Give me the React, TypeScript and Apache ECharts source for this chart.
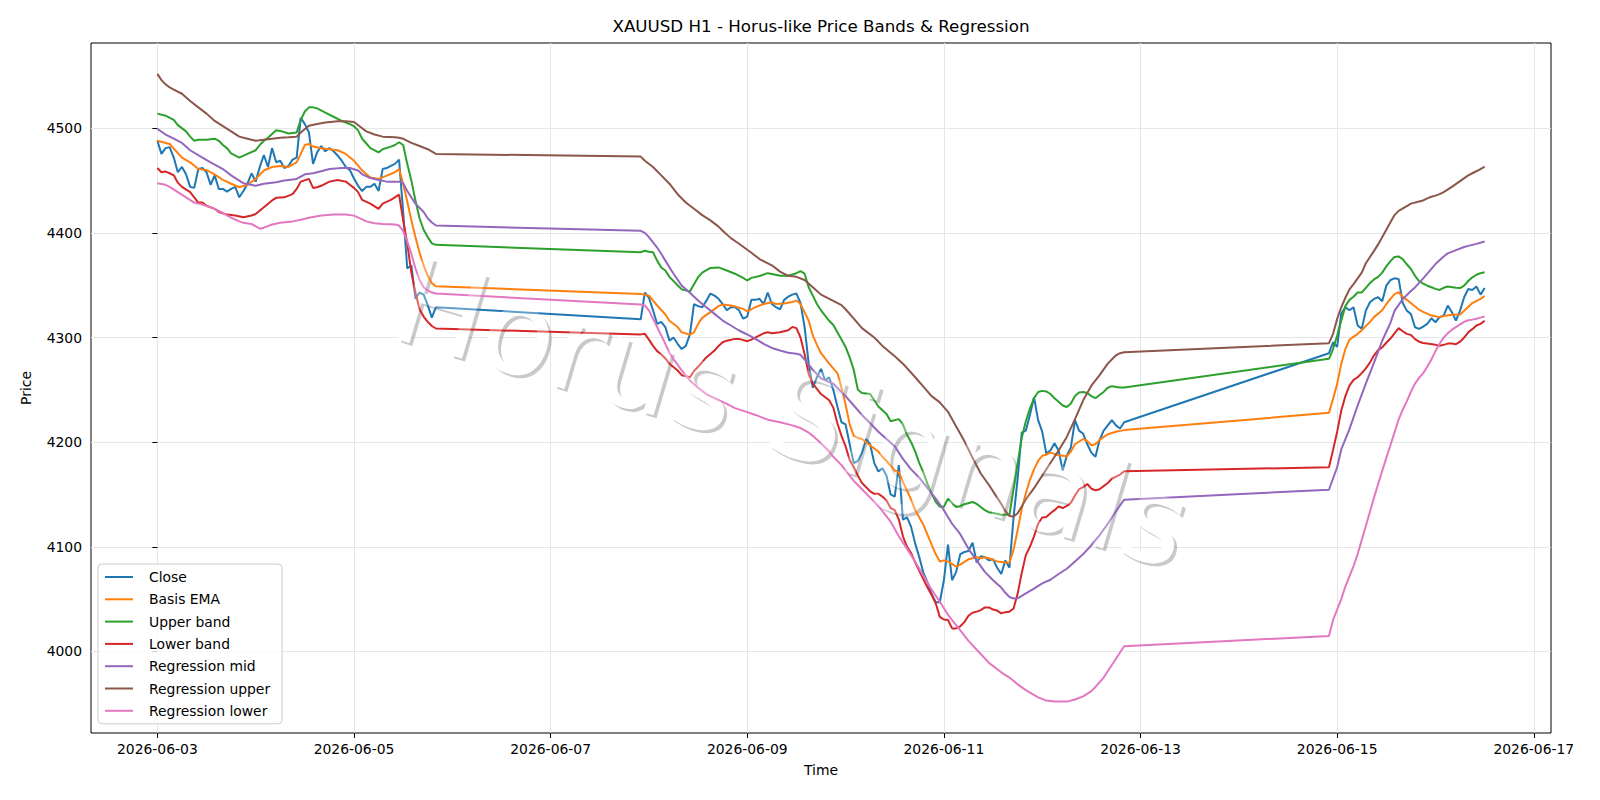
import React, { useEffect, useRef } from "react";
import * as echarts from "echarts";

// Hours are counted from 2026-06-03 00:00 (H1 bars, weekend gaps left open).
const xTickHours = [0, 48, 96, 144, 192, 240, 288, 336];
const xTickLabels = [
  "2026-06-03",
  "2026-06-05",
  "2026-06-07",
  "2026-06-09",
  "2026-06-11",
  "2026-06-13",
  "2026-06-15",
  "2026-06-17",
];
const yTicks = [4000, 4100, 4200, 4300, 4400, 4500];

const titleText = "XAUUSD H1 - Horus-like Price Bands & Regression";
const watermarkText = "Horus Signals";

const closePrices: [number, number][] = [
  [0, 4488], [1, 4475.5], [2, 4481], [3, 4482], [4, 4472], [5, 4458], [6, 4463], [7, 4456], [8, 4444], [9, 4443],
  [10, 4461], [11, 4462], [12, 4458], [13, 4446], [14, 4455], [15, 4442], [16, 4442], [17, 4439.5], [18, 4442], [19, 4444],
  [20, 4434], [21, 4440], [22, 4447], [23, 4457], [24, 4449], [25, 4463], [26, 4474.5], [27, 4463], [28, 4481], [29, 4467.5],
  [30, 4469], [31, 4462], [32, 4464], [33, 4470], [34, 4472], [35, 4510], [36, 4504], [37, 4496], [38, 4466], [39, 4477],
  [40, 4483], [41, 4478], [42, 4481], [43, 4478], [44, 4474], [45, 4469], [46, 4463], [47, 4460], [48, 4452], [49, 4445],
  [50, 4440], [51, 4444], [52, 4444], [53, 4447], [54, 4440], [55, 4461], [56, 4462], [57, 4464], [58, 4466], [59, 4470],
  [60, 4420], [61, 4366], [62, 4369], [63, 4337], [64, 4343], [65, 4341], [66, 4331], [67, 4319], [68, 4329],
  [118, 4317.5], [119, 4343], [120, 4338], [121, 4326], [122, 4313], [123, 4315], [124, 4310], [125, 4297], [126, 4300], [127, 4294],
  [128, 4289], [129, 4292], [130, 4303], [131, 4332], [132, 4330], [133, 4329], [134, 4335], [135, 4342], [136, 4340], [137, 4337],
  [138, 4332], [139, 4326], [140, 4329], [141, 4329], [142, 4326], [143, 4318], [144, 4320], [145, 4336], [146, 4336], [147, 4337],
  [148, 4332], [149, 4343], [150, 4332], [151, 4329], [152, 4327], [153, 4336], [154, 4339], [155, 4341], [156, 4342], [157, 4333],
  [158, 4310], [159, 4275], [160, 4252], [161, 4262], [162, 4270], [163, 4259], [164, 4262], [165, 4250], [166, 4234], [167, 4219],
  [168, 4217], [169, 4198], [170, 4180], [171, 4182], [172, 4190], [173, 4203], [174, 4198], [175, 4180], [176, 4172], [177, 4175],
  [178, 4168], [179, 4150], [180, 4148], [181, 4178], [182, 4126], [183, 4128], [184, 4119], [185, 4103], [186, 4090], [187, 4075],
  [188, 4066], [189, 4055], [190, 4047], [191, 4047], [192, 4068], [193, 4102], [194, 4068], [195, 4076], [196, 4093], [197, 4095],
  [198, 4096], [199, 4104], [200, 4085], [201, 4091], [202, 4090], [203, 4087], [204, 4088], [205, 4080], [206, 4074], [207, 4087],
  [208, 4080], [209, 4128], [210, 4165], [211, 4209], [212, 4211], [213, 4226], [214, 4243], [215, 4221], [216, 4210], [217, 4189],
  [218, 4192], [219, 4199], [220, 4192], [221, 4173], [222, 4187], [223, 4195], [224, 4221], [225, 4211], [226, 4208], [227, 4198],
  [228, 4190], [229, 4186], [230, 4202], [231, 4211], [232, 4216], [233, 4221], [234, 4216], [235, 4213], [236, 4219],
  [286, 4285], [287, 4295.5], [288, 4291], [289, 4323], [290, 4329], [291, 4326], [292, 4329], [293, 4311.5], [294, 4308.3], [295, 4325.7],
  [296, 4333.7], [297, 4336.9], [298, 4338.5], [299, 4334.6], [300, 4349.6], [301, 4355], [302, 4356.6], [303, 4356], [304, 4333], [305, 4325.7],
  [306, 4322.5], [307, 4309.8], [308, 4308.3], [309, 4310.5], [310, 4313], [311, 4318.4], [312, 4314.6], [313, 4319.4], [314, 4321], [315, 4330.6],
  [316, 4324.2], [317, 4316.2], [318, 4325.7], [319, 4338.5], [320, 4346.4], [321, 4345.5], [322, 4348.7], [323, 4341], [324, 4347.4],
];

const basisEma: [number, number][] = [
  [0, 4488], [3, 4485], [6, 4472], [8, 4467.5], [10, 4461], [12, 4460], [14, 4456], [16, 4450.6], [18, 4447], [20, 4443.6],
  [22, 4446], [24, 4451.6], [26, 4459.6], [28, 4463], [30, 4464], [32, 4463], [34, 4467.5], [35, 4475.5], [36, 4484], [37, 4485],
  [38, 4482.5], [40, 4481], [42, 4480], [44, 4479], [46, 4475.5], [48, 4469], [50, 4459.6], [52, 4453], [54, 4451.6], [56, 4454.8],
  [58, 4458], [59, 4461], [60, 4447], [61, 4430], [62, 4412], [63, 4396], [64, 4381], [65, 4369], [66, 4359], [67, 4352], [68, 4349],
  [118, 4341.7], [120, 4340], [122, 4330.6], [124, 4322], [125, 4316], [127, 4310], [128, 4305], [130, 4302.8], [131, 4305], [132, 4313],
  [133, 4318.8], [135, 4324.3], [137, 4330], [138, 4331.6], [140, 4330.6], [141, 4329.6], [143, 4327.4], [144, 4325], [146, 4329], [148, 4332],
  [150, 4333.8], [151, 4332], [153, 4332.5], [155, 4334], [156, 4335.3], [157, 4332], [158, 4324], [159, 4316], [160, 4302], [161, 4293],
  [162, 4285], [164, 4275], [166, 4266], [167, 4252], [168, 4236], [169, 4217], [170, 4206], [171, 4204], [172, 4203], [173, 4200],
  [175, 4194], [176, 4191], [177, 4186], [178, 4182], [180, 4173], [181, 4171], [182, 4162], [184, 4145], [185, 4135], [187, 4121],
  [189, 4102], [190, 4093], [191, 4086], [192, 4087], [193, 4086], [195, 4081], [196, 4083], [197, 4085.6], [198, 4088], [200, 4090],
  [201, 4089], [202, 4090], [203, 4089], [205, 4086], [207, 4085], [208, 4085], [209, 4097], [210, 4116], [211, 4136], [212, 4151],
  [213, 4164], [214, 4174], [215, 4182], [216, 4187], [217, 4188], [218, 4190], [220, 4187.5], [222, 4186.5], [223, 4191], [224, 4198],
  [226, 4203], [227, 4201], [228, 4197], [229, 4198], [230, 4202], [231, 4205], [232, 4207.5], [234, 4210], [236, 4211.5],
  [286, 4228], [287, 4241.4], [288, 4255.7], [289, 4274.8], [290, 4289], [291, 4298], [293, 4303.5], [294, 4307], [295, 4311], [296, 4315],
  [297, 4319.5], [299, 4326], [300, 4332], [301, 4337], [302, 4341.5], [303, 4343.3], [304, 4339], [305, 4336], [306, 4333], [308, 4326.5],
  [309, 4324.5], [311, 4321], [313, 4319.5], [314, 4320.5], [316, 4321.7], [318, 4322], [319, 4325.5], [321, 4332.9], [322, 4335], [323, 4337],
  [324, 4339.5],
];

const upperBand: [number, number][] = [
  [0, 4514], [2, 4512], [4, 4508], [5, 4503], [7, 4497], [8, 4492], [9, 4488], [10, 4489], [12, 4489], [14, 4490],
  [15, 4488], [16, 4484], [17, 4481], [18, 4476], [20, 4472], [22, 4475.5], [24, 4479], [25, 4484], [26, 4488], [27, 4491],
  [29, 4498], [30, 4497.5], [32, 4495], [34, 4496], [35, 4508], [36, 4516], [37, 4520], [38, 4520], [39, 4519], [41, 4515],
  [43, 4511], [45, 4507], [47, 4504], [48, 4502], [49, 4498], [50, 4490], [52, 4481], [54, 4477], [55, 4480], [57, 4482.5],
  [58, 4484], [59, 4486.6], [60, 4484], [61, 4466], [62, 4450], [63, 4431], [64, 4414], [65, 4403], [66, 4396], [67, 4390], [68, 4388.6],
  [118, 4381.5], [119, 4383], [120, 4382], [121, 4381.5], [122, 4373.5], [123, 4367], [124, 4364], [125, 4358], [127, 4350], [128, 4346],
  [130, 4344], [131, 4351], [132, 4357.6], [133, 4362], [135, 4366.5], [137, 4367], [139, 4364], [141, 4361], [143, 4357], [144, 4354.5],
  [145, 4357], [147, 4358.8], [149, 4361.5], [150, 4360.8], [152, 4359], [154, 4359], [156, 4361.5], [157, 4363.4], [158, 4361], [159, 4348],
  [160, 4340], [161, 4332], [162, 4326], [164, 4316], [165, 4312], [166, 4305], [167, 4298], [168, 4291], [169, 4281], [170, 4269],
  [171, 4250], [172, 4247], [174, 4246], [175, 4240], [176, 4234], [178, 4227], [179, 4220], [181, 4222], [182, 4217], [183, 4207],
  [184, 4200], [185, 4191], [186, 4180], [187, 4171], [188, 4160], [189, 4151], [190, 4143], [191, 4138.3], [192, 4138.3], [193, 4146],
  [194, 4142], [195, 4138], [196, 4139], [197, 4140.6], [199, 4142.8], [200, 4141], [201, 4138], [202, 4135], [203, 4133], [205, 4131.5],
  [206, 4130.5], [208, 4130.5], [209, 4155], [210, 4180], [211, 4204], [212, 4220], [213, 4232], [214, 4242], [215, 4248], [216, 4249],
  [217, 4248.5], [218, 4246], [219, 4242], [220, 4238.5], [221, 4235], [222, 4233.6], [223, 4237], [224, 4244], [225, 4247.5], [226, 4248],
  [227, 4247], [228, 4244], [229, 4242], [230, 4245], [231, 4248], [232, 4252], [233, 4253.5], [235, 4252.2], [236, 4252.2],
  [286, 4279.6], [287, 4289], [288, 4302], [289, 4316], [290, 4330], [291, 4336], [292, 4339], [293, 4343], [294, 4343], [295, 4347.5],
  [296, 4352], [297, 4355.5], [298, 4358], [299, 4362], [300, 4368], [301, 4373], [302, 4377], [303, 4377.5], [304, 4375], [305, 4370],
  [306, 4365.5], [307, 4359], [308, 4354], [309, 4351.5], [310, 4349.5], [311, 4348], [312, 4346.5], [313, 4345.5], [314, 4347.5], [315, 4348.7],
  [317, 4347.5], [318, 4347.3], [319, 4349.6], [320, 4354], [321, 4357.5], [322, 4360], [323, 4361.5], [324, 4362.4],
];

const lowerBand: [number, number][] = [
  [0, 4462], [1, 4458], [2, 4458.6], [3, 4457], [4, 4455], [5, 4448], [6, 4444], [8, 4439], [9, 4434], [10, 4429],
  [11, 4429], [12, 4426], [14, 4423], [15, 4420], [17, 4417.5], [19, 4416.6], [21, 4415], [23, 4416.6], [24, 4418], [26, 4424.5],
  [28, 4431], [29, 4433.5], [31, 4434], [33, 4437], [34, 4442], [35, 4449], [37, 4451.6], [38, 4443], [39, 4443.6], [40, 4445],
  [42, 4449], [44, 4450.6], [46, 4449], [47, 4446], [48, 4443], [49, 4439], [50, 4431.5], [52, 4428], [54, 4423], [55, 4428],
  [57, 4431.5], [59, 4436.6], [60, 4412], [61, 4390], [62, 4362], [63, 4343], [64, 4327], [65, 4320], [66, 4315], [67, 4311], [68, 4308.6],
  [118, 4303], [119, 4303.5], [120, 4298], [121, 4292], [122, 4287], [123, 4284], [124, 4280], [125, 4275], [127, 4268.5], [128, 4264],
  [130, 4262], [131, 4268], [132, 4272], [134, 4281], [136, 4287.6], [137, 4292], [138, 4295.5], [139, 4297], [141, 4298.7], [142, 4298.7],
  [144, 4296.5], [145, 4298], [147, 4302], [148, 4304], [149, 4305], [150, 4304], [152, 4305], [154, 4307], [155, 4310], [156, 4309],
  [157, 4300], [158, 4284], [159, 4265], [160, 4256], [161, 4251], [162, 4246], [164, 4240], [165, 4233], [166, 4218], [167, 4206],
  [168, 4196], [169, 4183], [170, 4176], [171, 4168], [172, 4161], [173, 4157], [174, 4153], [175, 4150.6], [176, 4150.6], [177, 4148],
  [178, 4144], [179, 4137], [180, 4135], [181, 4126], [182, 4110], [183, 4100], [184, 4094], [185, 4085], [186, 4077], [187, 4069],
  [188, 4061], [189, 4054], [190, 4046], [191, 4033], [192, 4030.5], [193, 4030], [194, 4022], [195, 4022], [196, 4024], [197, 4028],
  [198, 4034], [199, 4037], [200, 4038], [201, 4039.5], [202, 4042], [203, 4042], [204, 4040], [205, 4039], [206, 4036.3], [207, 4037.5],
  [208, 4038], [209, 4041], [210, 4055], [211, 4075], [212, 4092], [213, 4100], [214, 4110], [215, 4122], [216, 4128], [217, 4128.5],
  [218, 4132], [219, 4135], [220, 4138.5], [221, 4137], [222, 4139], [223, 4142], [224, 4149], [225, 4155], [226, 4157], [227, 4160],
  [228, 4155.5], [229, 4154], [230, 4155], [231, 4158], [232, 4161], [233, 4165], [234, 4167], [235, 4169], [236, 4172.2],
  [286, 4176], [287, 4192.6], [288, 4210], [289, 4230], [290, 4244], [291, 4254], [292, 4259.5], [293, 4262], [294, 4266], [295, 4270.5],
  [296, 4276], [297, 4283], [298, 4288], [299, 4290.5], [300, 4295], [301, 4299], [302, 4304], [303, 4309], [304, 4306], [305, 4303.5],
  [306, 4302.5], [307, 4298.5], [308, 4296], [309, 4294.8], [310, 4294.2], [312, 4293.2], [313, 4292], [314, 4293], [315, 4294.2], [316, 4294.2],
  [317, 4293.6], [318, 4296], [319, 4300], [320, 4305], [321, 4308], [322, 4311.5], [323, 4313], [324, 4316],
];

const regressionMid: [number, number][] = [
  [0, 4499.4], [2, 4494], [4, 4490], [6, 4486], [8, 4479], [11, 4472], [13, 4467.5], [16, 4461], [18, 4455], [20, 4450],
  [21, 4447.5], [24, 4445], [26, 4447], [29, 4448.4], [31, 4450], [34, 4451.6], [36, 4456], [38, 4457], [40, 4459], [42, 4461],
  [45, 4462], [47, 4462], [49, 4459.6], [50, 4456], [52, 4452.5], [54, 4450.6], [56, 4449], [59, 4449], [60, 4447.5], [61, 4440],
  [63, 4428], [65, 4420], [66, 4414], [67, 4410], [68, 4407],
  [118, 4402], [119, 4400], [120, 4396], [121, 4391], [122, 4386], [123, 4380], [124, 4373.5], [126, 4361], [128, 4349.6], [130, 4342.7],
  [132, 4335.3], [134, 4329], [136, 4322.6], [138, 4316.2], [140, 4311.5], [142, 4306.7], [144, 4302.9], [146, 4298.8], [148, 4294], [150, 4290],
  [152, 4287.6], [154, 4285.5], [156, 4284.5], [157, 4283.5], [158, 4279], [160, 4269], [162, 4261], [165, 4255.8], [168, 4244], [170, 4235],
  [172, 4226], [174, 4218], [176, 4210], [178, 4203], [180, 4196], [182, 4184], [184, 4174], [186, 4166], [188, 4156], [190, 4146],
  [192, 4135], [194, 4122], [196, 4112], [198, 4098], [200, 4087], [202, 4076], [204, 4068], [206, 4061], [207, 4056], [208, 4052],
  [209, 4050.6], [210, 4050.7], [212, 4055.4], [214, 4060], [216, 4065], [218, 4068.5], [220, 4074], [222, 4079], [224, 4086], [226, 4093],
  [228, 4101.5], [230, 4111], [232, 4122], [234, 4134], [235, 4139.5], [236, 4145],
  [286, 4154.5], [288, 4176], [289, 4193], [291, 4212.5], [293, 4235], [295, 4256], [297, 4276], [299, 4296.9], [301, 4314], [302, 4325.5],
  [304, 4336.7], [306, 4344.5], [307, 4347.9], [309, 4356.5], [310, 4361], [312, 4370.2], [314, 4377.5], [315, 4380.4], [317, 4383.5], [319, 4386.5],
  [320, 4387.6], [322, 4389.5], [324, 4391.8],
];

const regressionUpper: [number, number][] = [
  [0, 4552], [1, 4546], [2, 4542], [3, 4539], [4, 4537], [6, 4533], [8, 4526], [10, 4520], [12, 4514], [14, 4507],
  [16, 4502], [18, 4497], [20, 4492], [22, 4490], [24, 4488], [26, 4489], [28, 4490], [30, 4491], [32, 4491.4], [34, 4492],
  [35, 4496], [37, 4502.5], [39, 4504], [41, 4505.5], [44, 4506.6], [46, 4506.6], [48, 4506], [50, 4500], [51, 4497], [53, 4494],
  [55, 4492], [58, 4491.4], [59, 4491], [60, 4490], [61, 4488], [62, 4486], [64, 4483], [66, 4480], [68, 4475.5],
  [118, 4472.9], [119, 4469], [121, 4463], [123, 4455], [125, 4447], [127, 4437], [129, 4429], [131, 4423], [133, 4417], [135, 4412],
  [137, 4406], [138, 4402], [140, 4395], [142, 4389.6], [145, 4381], [147, 4375], [150, 4369], [152, 4363], [154, 4359], [156, 4358],
  [158, 4355], [160, 4348], [162, 4341], [165, 4335], [167, 4331], [168, 4327], [170, 4318], [172, 4309], [175, 4300], [177, 4292],
  [180, 4282], [182, 4275], [185, 4262], [187, 4253], [189, 4244], [191, 4238], [193, 4229], [195, 4215], [197, 4201], [199, 4185],
  [201, 4170], [203, 4159], [205, 4147], [206, 4141], [207, 4134], [208, 4129.5], [209, 4129], [210, 4132], [212, 4145], [214, 4156],
  [216, 4168], [218, 4180], [220, 4192], [222, 4205], [224, 4222], [226, 4240], [228, 4254], [230, 4264], [232, 4275], [234, 4283],
  [235, 4285], [236, 4286],
  [286, 4294.6], [287, 4303.5], [288, 4317.8], [289, 4328.9], [290, 4338], [291, 4346], [292, 4351], [294, 4362], [295, 4371], [297, 4382.8],
  [298, 4389], [300, 4403], [302, 4417], [303, 4421], [305, 4425.5], [306, 4428], [308, 4430], [309, 4431], [310, 4433], [311, 4434.5],
  [312, 4435.6], [313, 4437], [314, 4439], [316, 4444], [318, 4449.5], [320, 4455], [321, 4457], [323, 4461], [324, 4463.3],
];

const regressionLower: [number, number][] = [
  [0, 4447.5], [2, 4446], [3, 4444], [5, 4439], [7, 4434], [9, 4429], [11, 4427], [14, 4423], [16, 4419], [18, 4414.5],
  [20, 4411], [21, 4409.6], [23, 4408.6], [25, 4404], [26, 4405], [28, 4408], [30, 4409.6], [33, 4411], [35, 4412.5], [37, 4414.5],
  [40, 4416.6], [43, 4417.5], [46, 4417.5], [48, 4416.5], [50, 4413], [51, 4411], [53, 4409.3], [55, 4408.6], [58, 4408], [59, 4407],
  [60, 4402], [61, 4392], [62, 4380], [63, 4366], [64, 4355], [65, 4348], [66, 4345], [67, 4343], [68, 4342],
  [118, 4331.6], [119, 4330.6], [120, 4326], [121, 4318], [122, 4310], [123, 4302], [124, 4294], [125, 4285.5], [126, 4279], [127, 4274],
  [128, 4268.5], [130, 4259], [132, 4252], [134, 4246], [136, 4242], [139, 4236.6], [141, 4232.5], [144, 4228.7], [146, 4226], [149, 4221.5],
  [152, 4219], [155, 4216], [157, 4213.5], [159, 4209], [160, 4206], [162, 4199], [164, 4191], [165, 4186], [167, 4178], [168, 4173],
  [170, 4163], [172, 4155], [174, 4147], [176, 4139], [179, 4124], [181, 4110], [184, 4092], [186, 4079], [189, 4059], [191, 4047.5],
  [193, 4035], [196, 4020], [198, 4010], [201, 3997.5], [203, 3989], [206, 3980], [208, 3975], [210, 3968.5], [212, 3963], [215, 3956],
  [217, 3953], [219, 3952], [222, 3952], [224, 3954], [226, 3957], [228, 3962], [229, 3966], [231, 3975], [232, 3981], [234, 3993],
  [235, 3999], [236, 4004.9],
  [286, 4014.8], [287, 4030], [288, 4040], [289, 4050], [290, 4062], [292, 4081.6], [293, 4093], [295, 4119.8], [297, 4147], [298, 4160],
  [300, 4185], [301, 4197], [303, 4221.6], [304, 4231], [305, 4239], [306, 4248], [307, 4256], [308, 4261.4], [309, 4266], [310, 4272],
  [311, 4279], [312, 4287], [313, 4294], [314, 4300], [315, 4304], [316, 4307.5], [317, 4310], [318, 4312.5], [319, 4315], [320, 4316.5],
  [321, 4317.1], [322, 4318], [323, 4319], [324, 4320.2],
];

const seriesDefs: { name: string; data: [number, number][]; color: string }[] = [
  { name: "Close", data: closePrices, color: "#1f77b4" },
  { name: "Basis EMA", data: basisEma, color: "#ff7f0e" },
  { name: "Upper band", data: upperBand, color: "#2ca02c" },
  { name: "Lower band", data: lowerBand, color: "#d62728" },
  { name: "Regression mid", data: regressionMid, color: "#9467bd" },
  { name: "Regression upper", data: regressionUpper, color: "#8c564b" },
  { name: "Regression lower", data: regressionLower, color: "#e377c2" },
];

const FONT = "DejaVu Sans";

export default function App() {
  const ref = useRef<HTMLDivElement>(null);

  useEffect(() => {
    if (!ref.current) return;
    const chart = echarts.init(ref.current, null, { renderer: "svg" });

    const gridLeft = 91;
    const gridTop = 43;
    const gridWidth = 1460;
    const gridHeight = 690;
    const plotCenterX = gridLeft + gridWidth / 2;

    const markRotation = -0.288;
    const markX = 792;
    const markY = 413;
    const markFont = 120;

    chart.setOption({
      animation: false,
      backgroundColor: "#ffffff",
      textStyle: { fontFamily: FONT },
      grid: {
        left: gridLeft,
        top: gridTop,
        width: gridWidth,
        height: gridHeight,
        show: true,
        borderColor: "#000000",
        borderWidth: 1,
        backgroundColor: "transparent",
        containLabel: false,
      },
      xAxis: {
        type: "value",
        min: -16.2,
        max: 340.2,
        axisLine: { show: false },
        axisTick: {
          show: true,
          length: 5,
          lineStyle: { color: "#000000", width: 1 },
          customValues: xTickHours,
        },
        axisLabel: {
          customValues: xTickHours,
          formatter: (v: number) => xTickLabels[xTickHours.indexOf(v)] ?? "",
          fontSize: 13.9,
          color: "#000000",
          fontFamily: FONT,
          margin: 9,
        },
        splitLine: { show: true, lineStyle: { color: "#e6e6e6", width: 1 } },
      },
      yAxis: {
        type: "value",
        min: 3922,
        max: 4581.5,
        axisLine: { show: false },
        axisTick: {
          show: true,
          length: 5,
          lineStyle: { color: "#000000", width: 1 },
          customValues: yTicks,
        },
        axisLabel: {
          customValues: yTicks,
          formatter: (v: number) => String(v),
          fontSize: 13.9,
          color: "#000000",
          fontFamily: FONT,
          margin: 9,
        },
        splitLine: { show: true, lineStyle: { color: "#e6e6e6", width: 1 } },
      },
      legend: {
        orient: "vertical",
        left: 98,
        top: 564,
        icon: "rect",
        itemWidth: 28,
        itemHeight: 2,
        itemGap: 8.3,
        padding: [6, 12, 6, 7],
        borderColor: "#cccccc",
        borderWidth: 1,
        borderRadius: 4,
        backgroundColor: "rgba(255,255,255,0.8)",
        textStyle: { fontSize: 13.9, lineHeight: 14, color: "#000000", fontFamily: FONT, padding: [0, 0, 0, 11] },
        data: seriesDefs.map((s) => s.name),
      },
      series: seriesDefs.map((s) => ({
        name: s.name,
        type: "line",
        data: s.data,
        symbol: "none",
        showSymbol: false,
        lineStyle: { color: s.color, width: 2 },
        itemStyle: { color: s.color },
        z: 2,
      })),
      graphic: [
        {
          type: "text",
          x: plotCenterX,
          y: 25.5,
          style: { text: titleText, fontSize: 16.7, fontFamily: FONT, fill: "#000000", align: "center", verticalAlign: "middle" },
        },
        {
          type: "text",
          x: plotCenterX,
          y: 770,
          style: { text: "Time", fontSize: 13.9, fontFamily: FONT, fill: "#000000", align: "center", verticalAlign: "middle" },
        },
        {
          type: "text",
          x: 25.5,
          y: gridTop + gridHeight / 2,
          rotation: Math.PI / 2,
          style: { text: "Price", fontSize: 13.9, fontFamily: FONT, fill: "#000000", align: "center", verticalAlign: "middle" },
        },
        {
          type: "text",
          x: markX + 3,
          y: markY + 3,
          rotation: markRotation,
          z: 1,
          silent: true,
          style: { text: watermarkText, fontSize: markFont, fontFamily: FONT, fill: "rgba(0,0,0,0.21)", align: "center", verticalAlign: "middle" },
        },
        {
          type: "text",
          x: markX,
          y: markY,
          rotation: markRotation,
          z: 1,
          silent: true,
          style: { text: watermarkText, fontSize: markFont, fontFamily: FONT, fill: "#ffffff", align: "center", verticalAlign: "middle" },
        },
        {
          type: "text",
          x: markX,
          y: markY,
          rotation: markRotation,
          z: 100,
          silent: true,
          style: { text: watermarkText, fontSize: markFont, fontFamily: FONT, fill: "rgba(255,255,255,0.3)", align: "center", verticalAlign: "middle" },
        },
      ],
    });

    return () => chart.dispose();
  }, []);

  return <div ref={ref} style={{ position: "fixed", left: 0, top: 0, width: 1600, height: 800 }} />;
}
